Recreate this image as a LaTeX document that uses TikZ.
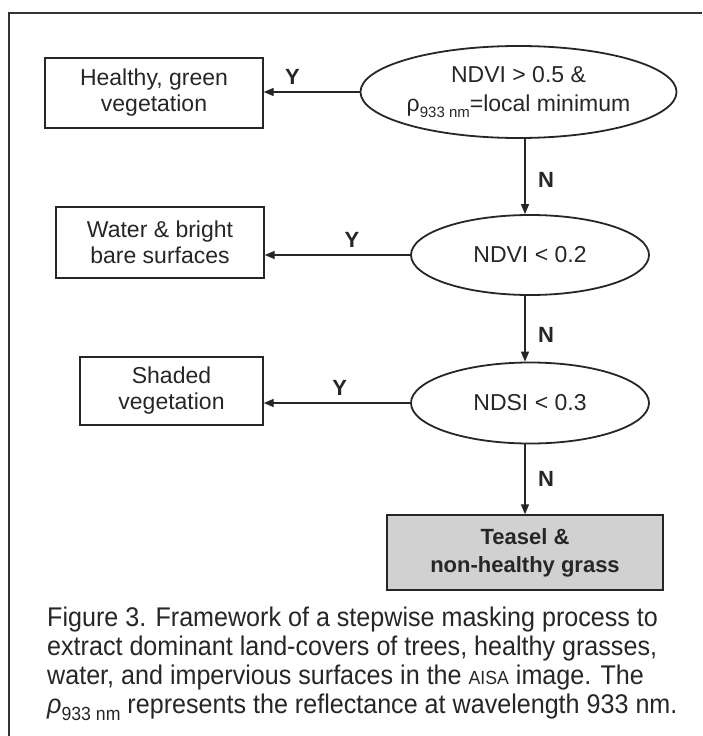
\documentclass[tikz,border=0pt]{standalone}
\usepackage{fontspec}
\setmainfont{Liberation Sans}
\newfontfamily\capfont[FakeStretch=0.93]{Liberation Sans}
\usetikzlibrary{shapes.geometric,arrows.meta}
\begin{document}
\begin{tikzpicture}[x=1pt,y=-1pt,
  box/.style={draw=black!85,line width=1.4pt,align=center,inner sep=0pt,font=\fontsize{23}{26}\selectfont,text=black!85},
  test/.style={ellipse,draw=black!85,line width=1.8pt,align=center,inner sep=0pt,font=\fontsize{23}{29}\selectfont,text=black!85},
  arr/.style={-{Triangle[length=10pt,width=8pt]},line width=1.4pt,draw=black!85},
  lab/.style={font=\bfseries\fontsize{22}{22}\selectfont,text=black!85}]
\useasboundingbox (0,0) rectangle (702,736);
\draw[line width=2pt,black!80] (9,736) -- (9,13) -- (702,13);
\node[box,minimum width=218pt,minimum height=70pt] (green) at (154,93) {Healthy, green\\vegetation};
\node[box,minimum width=208pt,minimum height=71pt] (water) at (160,242.5) {Water \& bright\\bare surfaces};
\node[box,minimum width=183pt,minimum height=68pt] (shade) at (171.5,391) {Shaded\\vegetation};
\node[test,minimum width=311pt,minimum height=92pt] (ndvia) at (518.5,92) {NDVI > 0.5 \&\\ρ\raisebox{-0.45ex}{\fontsize{15}{15}\selectfont 933 nm}=local minimum};
\node[test,minimum width=238pt,minimum height=80pt] (ndvib) at (530,255) {NDVI < 0.2};
\node[test,minimum width=238pt,minimum height=81pt] (ndsi) at (530,403) {NDSI < 0.3};
\node[box,fill=black!18,minimum width=276pt,minimum height=75pt,font=\bfseries\fontsize{22}{28}\selectfont] (grass) at (525,552.5) {Teasel \&\\non-healthy grass};
\draw[arr] (ndvia.west) -- (green.east |- ndvia.west) node[lab,pos=0.7,above=3pt] {Y};
\draw[arr] (ndvib.west) -- (water.east |- ndvib.west) node[lab,pos=0.4,above=3pt] {Y};
\draw[arr] (ndsi.west) -- (shade.east |- ndsi.west) node[lab,pos=0.48,above=3pt] {Y};
\draw[arr] (ndvia.south -| grass.north) -- (ndvib.north -| grass.north) node[lab,pos=0.55,right=9pt] {N};
\draw[arr] (ndvib.south -| grass.north) -- (ndsi.north -| grass.north) node[lab,pos=0.6,right=9pt] {N};
\draw[arr] (ndsi.south -| grass.north) -- (grass.north) node[lab,pos=0.5,right=9pt] {N};
\node[anchor=north west,align=left,inner sep=0pt,font=\capfont\fontsize{27}{29}\selectfont,text=black!85] (caption) at (47,607) {Figure 3. Framework of a stepwise masking process to\\extract dominant land-covers of trees, healthy grasses,\\water, and impervious surfaces in the {\fontsize{19}{19}\selectfont AISA} image. The\\{\itshape ρ}\raisebox{-0.45ex}{\fontsize{19}{19}\selectfont 933 nm} represents the reflectance at wavelength 933 nm.};
\end{tikzpicture}
\end{document}
